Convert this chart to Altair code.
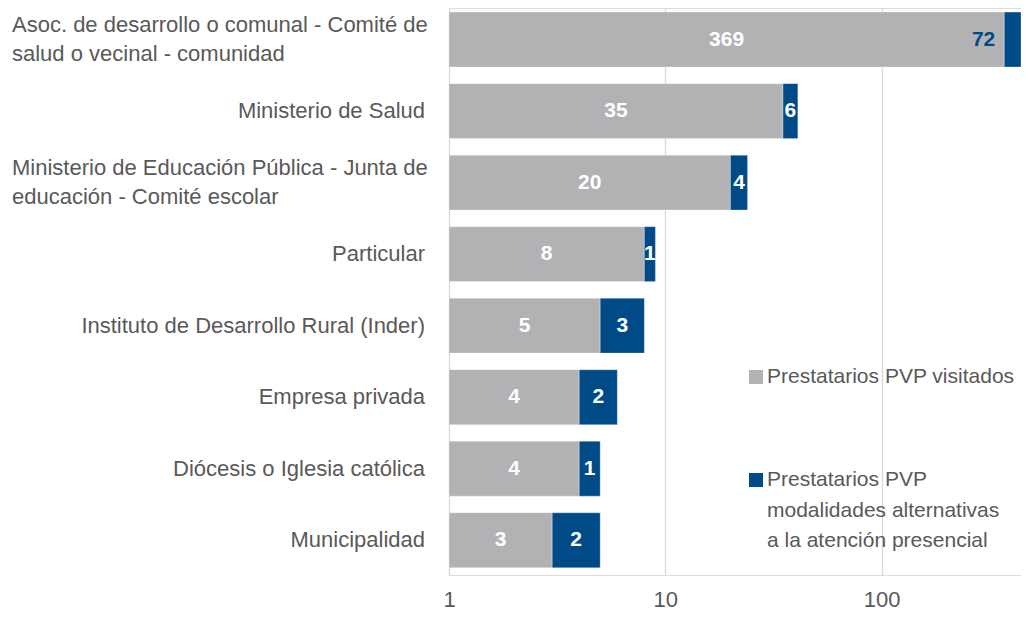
import altair as alt
import pandas as pd
import numpy as np

categories = [
    "Asoc. de desarrollo o comunal - Comité de|salud o vecinal - comunidad",
    "Ministerio de Salud",
    "Ministerio de Educación Pública - Junta de|educación - Comité escolar",
    "Particular",
    "Instituto de Desarrollo Rural (Inder)",
    "Empresa privada",
    "Diócesis o Iglesia católica",
    "Municipalidad",
]
visitados = [369, 35, 20, 8, 5, 4, 4, 3]
alternativas = [72, 6, 4, 1, 3, 2, 1, 2]
series = ["Prestatarios PVP visitados",
          "Prestatarios PVP|modalidades alternativas|a la atención presencial"]
x_ticks = [1, 10, 100]

GRAY = "#b2b2b4"
BLUE = "#004b87"
TXT = "#595959"
FONT = "Liberation Sans, Arial, sans-serif"

rows = []
for i, c in enumerate(categories):
    v, a = visitados[i], alternativas[i]
    rows.append(dict(cat=c, seg="v", start=1, end=v, val=v, idx=i))
    rows.append(dict(cat=c, seg="a", start=v, end=v + a, val=a, idx=i))
df = pd.DataFrame(rows)
df["mid"] = np.sqrt(df["start"] * df["end"])
df["multi"] = df["cat"].str.contains("|", regex=False)
df["narrow"] = (df["seg"] == "a") & (df["val"] / df["start"] < 0.25) & (df["val"] > 9)

y_enc = alt.Y("cat:N", sort=categories, axis=None,
              scale=alt.Scale(paddingInner=0.232, paddingOuter=0.08, align=0.36))
xscale = alt.Scale(type="log", domain=[1, visitados[0] + alternativas[0]], nice=False)

base = alt.Chart(df)

bars = base.mark_bar(stroke="white", strokeWidth=0.5, strokeOpacity=0.6).encode(
    y=y_enc,
    x=alt.X("start:Q", scale=xscale, title=None,
            axis=alt.Axis(values=x_ticks, format="d", grid=True, gridColor="#d9d9d9",
                          gridWidth=1.3, domain=False, ticks=False, labelFontSize=22,
                          labelColor=TXT, labelFont=FONT, labelPadding=14,
                          labelFlush=False)),
    x2="end:Q",
    color=alt.Color("seg:N", scale=alt.Scale(domain=["v", "a"], range=[GRAY, BLUE]),
                    legend=None),
)

vals = base.transform_filter("!datum.narrow").mark_text(
    color="white", fontWeight="bold", fontSize=21, font=FONT, baseline="middle"
).encode(y=y_enc, x=alt.X("mid:Q", scale=xscale), text="val:Q")

vals_narrow = base.transform_filter("datum.narrow").mark_text(
    color=BLUE, fontWeight="bold", fontSize=21, font=FONT, baseline="middle",
    align="right", dx=-9
).encode(y=y_enc, x=alt.X("start:Q", scale=xscale), text="val:Q")

cat_df = df[df["seg"] == "v"]
labels_single = alt.Chart(cat_df).transform_filter("!datum.multi").mark_text(
    align="right", baseline="middle", fontSize=22, font=FONT, color=TXT
).encode(y=y_enc, x=alt.value(-24), text="cat:N")

labels_multi = alt.Chart(cat_df).transform_filter("datum.multi").mark_text(
    align="left", baseline="middle", fontSize=22, font=FONT, color=TXT,
    lineBreak="|", lineHeight=29, dy=-14.5
).encode(y=y_enc, x=alt.value(-437), text="cat:N")

leg_df = pd.DataFrame({"s": series, "k": ["v", "a"]})
leg_layers = []
leg_pos = [(369, 369), (472, 472)]
for k, (sy, ty) in zip(["v", "a"], leg_pos):
    d = alt.Chart(leg_df).transform_filter(f"datum.k == '{k}'")
    leg_layers.append(d.mark_square(size=196, opacity=1).encode(
        x=alt.value(307), y=alt.value(sy),
        color=alt.Color("k:N", scale=alt.Scale(domain=["v", "a"], range=[GRAY, BLUE]),
                        legend=None)))
    leg_layers.append(d.mark_text(align="left", baseline="middle", fontSize=21,
                                  font=FONT, color=TXT, lineBreak="|",
                                  lineHeight=30.5).encode(
        x=alt.value(318), y=alt.value(ty), text="s:N"))

chart = alt.layer(bars, vals, vals_narrow, labels_single, labels_multi, *leg_layers).properties(
    width=572, height=567,
    autosize=alt.AutoSizeParams(type="none"),
    padding={"left": 441, "top": 0, "right": 0, "bottom": 37},
).configure_view(stroke=None).configure(background="white")

chart.save("out.html", embed_options={"renderer": "svg", "actions": False})
